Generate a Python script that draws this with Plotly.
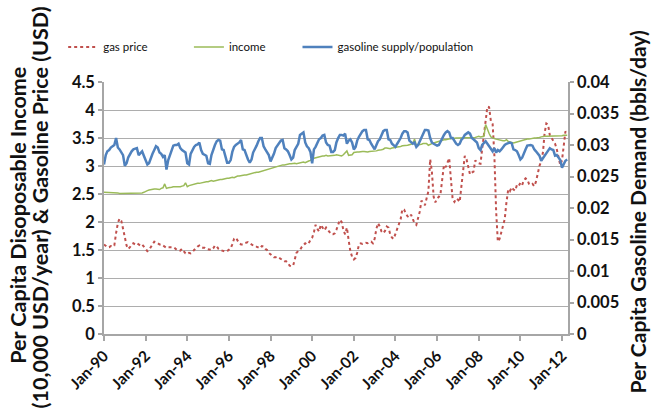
import pandas as pd
import plotly.graph_objects as go

# Monthly observations, Jan 1990 - Apr 2012
gas_price = [
    1.60, 1.58, 1.55, 1.55, 1.57, 1.56, 1.58, 1.80, 1.98, 2.06, 2.02, 1.88,  # 1990
    1.70, 1.58, 1.52, 1.55, 1.60, 1.62, 1.60, 1.62, 1.60, 1.58, 1.60, 1.56,  # 1991
    1.50, 1.48, 1.50, 1.55, 1.62, 1.65, 1.64, 1.62, 1.60, 1.60, 1.58, 1.55,  # 1992
    1.54, 1.55, 1.55, 1.56, 1.55, 1.53, 1.50, 1.50, 1.49, 1.52, 1.47, 1.44,  # 1993
    1.43, 1.45, 1.44, 1.46, 1.50, 1.54, 1.56, 1.58, 1.55, 1.54, 1.54, 1.52,  # 1994
    1.51, 1.50, 1.50, 1.53, 1.58, 1.57, 1.52, 1.50, 1.49, 1.48, 1.47, 1.48,  # 1995
    1.50, 1.53, 1.60, 1.70, 1.72, 1.66, 1.62, 1.60, 1.60, 1.62, 1.63, 1.64,  # 1996
    1.62, 1.60, 1.57, 1.56, 1.56, 1.55, 1.53, 1.57, 1.56, 1.52, 1.50, 1.45,  # 1997
    1.42, 1.39, 1.37, 1.37, 1.38, 1.36, 1.34, 1.31, 1.30, 1.30, 1.27, 1.22,  # 1998
    1.21, 1.22, 1.33, 1.45, 1.48, 1.50, 1.55, 1.58, 1.62, 1.60, 1.62, 1.68,  # 1999
    1.72, 1.82, 1.95, 1.88, 1.83, 1.95, 1.90, 1.85, 1.90, 1.86, 1.82, 1.78,  # 2000
    1.78, 1.80, 1.86, 1.96, 2.04, 2.00, 1.86, 1.78, 1.90, 1.68, 1.48, 1.38,  # 2001
    1.33, 1.36, 1.45, 1.60, 1.62, 1.61, 1.62, 1.63, 1.62, 1.64, 1.65, 1.62,  # 2002
    1.70, 1.88, 1.98, 1.92, 1.83, 1.80, 1.84, 1.92, 1.90, 1.78, 1.72, 1.70,  # 2003
    1.78, 1.88, 1.95, 2.05, 2.23, 2.22, 2.15, 2.10, 2.08, 2.13, 2.05, 1.98,  # 2004
    1.95, 2.05, 2.18, 2.38, 2.35, 2.30, 2.42, 2.55, 3.12, 2.90, 2.45, 2.35,  # 2005
    2.42, 2.45, 2.50, 2.80, 3.02, 2.98, 3.08, 3.14, 2.75, 2.40, 2.36, 2.42,  # 2006
    2.40, 2.36, 2.62, 2.95, 3.18, 3.12, 2.98, 2.85, 2.88, 2.90, 3.10, 3.06,  # 2007
    3.05, 3.04, 3.30, 3.55, 3.85, 4.06, 4.05, 3.80, 3.75, 3.20, 2.20, 1.65,  # 2008
    1.70, 1.82, 1.95, 2.05, 2.35, 2.58, 2.55, 2.62, 2.58, 2.56, 2.66, 2.64,  # 2009
    2.70, 2.66, 2.74, 2.78, 2.76, 2.68, 2.66, 2.68, 2.64, 2.72, 2.86, 3.00,  # 2010
    3.08, 3.25, 3.58, 3.76, 3.74, 3.55, 3.50, 3.46, 3.40, 3.30, 3.18, 3.02,  # 2011
    3.10, 3.40, 3.62, 3.58,                                                  # 2012
]

income = [
    2.53, 2.53, 2.52, 2.53, 2.53, 2.52, 2.52, 2.52, 2.52, 2.51, 2.51, 2.51,  # 1990
    2.51, 2.51, 2.52, 2.52, 2.52, 2.52, 2.51, 2.52, 2.52, 2.52, 2.52, 2.53,  # 1991
    2.55, 2.56, 2.57, 2.58, 2.58, 2.59, 2.59, 2.59, 2.58, 2.60, 2.61, 2.68,  # 1992
    2.60, 2.61, 2.61, 2.62, 2.63, 2.63, 2.63, 2.62, 2.63, 2.64, 2.65, 2.70,  # 1993
    2.63, 2.65, 2.66, 2.67, 2.68, 2.68, 2.69, 2.69, 2.70, 2.71, 2.71, 2.72,  # 1994
    2.72, 2.73, 2.74, 2.73, 2.74, 2.75, 2.75, 2.76, 2.76, 2.77, 2.77, 2.78,  # 1995
    2.78, 2.79, 2.80, 2.79, 2.81, 2.82, 2.82, 2.83, 2.83, 2.84, 2.84, 2.85,  # 1996
    2.86, 2.87, 2.87, 2.88, 2.89, 2.89, 2.90, 2.91, 2.92, 2.93, 2.94, 2.95,  # 1997
    2.96, 2.97, 2.98, 2.99, 3.00, 3.00, 3.01, 3.02, 3.02, 3.03, 3.03, 3.04,  # 1998
    3.04, 3.05, 3.05, 3.04, 3.05, 3.06, 3.06, 3.07, 3.06, 3.08, 3.09, 3.10,  # 1999
    3.13, 3.14, 3.15, 3.16, 3.17, 3.17, 3.18, 3.18, 3.19, 3.18, 3.18, 3.18,  # 2000
    3.19, 3.19, 3.20, 3.19, 3.19, 3.18, 3.20, 3.23, 3.27, 3.19, 3.20, 3.20,  # 2001
    3.24, 3.25, 3.25, 3.25, 3.26, 3.26, 3.26, 3.25, 3.25, 3.26, 3.26, 3.26,  # 2002
    3.27, 3.27, 3.28, 3.28, 3.29, 3.30, 3.32, 3.32, 3.31, 3.31, 3.32, 3.32,  # 2003
    3.33, 3.34, 3.34, 3.35, 3.36, 3.36, 3.37, 3.37, 3.38, 3.39, 3.40, 3.48,  # 2004
    3.37, 3.38, 3.38, 3.39, 3.40, 3.40, 3.40, 3.37, 3.39, 3.40, 3.41, 3.42,  # 2005
    3.44, 3.45, 3.46, 3.47, 3.47, 3.47, 3.48, 3.48, 3.49, 3.49, 3.50, 3.50,  # 2006
    3.50, 3.50, 3.50, 3.50, 3.50, 3.50, 3.50, 3.50, 3.50, 3.51, 3.51, 3.52,  # 2007
    3.53, 3.52, 3.52, 3.53, 3.74, 3.65, 3.58, 3.52, 3.50, 3.49, 3.48, 3.47,  # 2008
    3.46, 3.46, 3.45, 3.45, 3.47, 3.44, 3.43, 3.42, 3.41, 3.42, 3.43, 3.44,  # 2009
    3.45, 3.46, 3.46, 3.47, 3.48, 3.48, 3.49, 3.49, 3.50, 3.50, 3.50, 3.51,  # 2010
    3.52, 3.53, 3.53, 3.53, 3.53, 3.53, 3.53, 3.54, 3.53, 3.53, 3.54, 3.54,  # 2011
    3.54, 3.55, 3.55, 3.55,                                                  # 2012
]

# barrels per day per person
supply_per_capita = [
    .0269, .0284, .0290, .0292, .0296, .0298, .0300, .0311, .0296, .0293, .0288, .0284,  # 1990
    .0267, .0271, .0280, .0286, .0290, .0293, .0294, .0295, .0284, .0288, .0290, .0283,  # 1991
    .0276, .0269, .0271, .0280, .0286, .0292, .0298, .0296, .0288, .0286, .0281, .0284,  # 1992
    .0261, .0276, .0284, .0293, .0299, .0300, .0300, .0302, .0295, .0292, .0290, .0288,  # 1993
    .0271, .0269, .0286, .0292, .0297, .0300, .0301, .0304, .0292, .0286, .0284, .0283,  # 1994
    .0271, .0270, .0284, .0293, .0300, .0306, .0308, .0307, .0293, .0292, .0280, .0272,  # 1995
    .0272, .0276, .0289, .0297, .0300, .0302, .0304, .0308, .0293, .0292, .0284, .0277,  # 1996
    .0272, .0277, .0288, .0293, .0299, .0306, .0311, .0311, .0298, .0293, .0289, .0284,  # 1997
    .0274, .0280, .0286, .0295, .0299, .0304, .0307, .0308, .0295, .0293, .0290, .0284,  # 1998
    .0277, .0280, .0292, .0297, .0302, .0316, .0318, .0320, .0304, .0298, .0295, .0289,  # 1999
    .0271, .0293, .0297, .0304, .0309, .0311, .0315, .0316, .0304, .0300, .0299, .0289,  # 2000
    .0289, .0292, .0304, .0311, .0316, .0316, .0315, .0318, .0302, .0307, .0309, .0304,  # 2001
    .0293, .0297, .0307, .0313, .0318, .0322, .0324, .0324, .0309, .0308, .0302, .0298,  # 2002
    .0293, .0300, .0306, .0309, .0316, .0322, .0324, .0324, .0309, .0308, .0302, .0299,  # 2003
    .0297, .0302, .0306, .0311, .0318, .0322, .0322, .0320, .0307, .0304, .0302, .0304,  # 2004
    .0297, .0300, .0306, .0313, .0320, .0324, .0324, .0323, .0311, .0304, .0302, .0300,  # 2005
    .0299, .0300, .0306, .0311, .0316, .0320, .0322, .0320, .0311, .0311, .0306, .0302,  # 2006
    .0300, .0302, .0308, .0311, .0316, .0318, .0320, .0318, .0311, .0309, .0306, .0304,  # 2007
    .0295, .0292, .0300, .0304, .0306, .0302, .0298, .0293, .0290, .0295, .0288, .0292,  # 2008
    .0290, .0293, .0297, .0300, .0302, .0303, .0304, .0303, .0293, .0292, .0290, .0284,  # 2009
    .0277, .0280, .0288, .0293, .0299, .0300, .0300, .0299, .0293, .0290, .0286, .0283,  # 2010
    .0275, .0279, .0283, .0288, .0292, .0295, .0293, .0292, .0283, .0284, .0280, .0276,  # 2011
    .0264, .0271, .0275, .0277,                                                          # 2012
]

months = pd.date_range("1990-01-01", periods=len(gas_price), freq="MS")

RED = "#C0504D"
GREEN = "#9BBB59"
BLUE = "#4F81BD"
GRID = "#ADADAD"
AXIS = "#A6A6A6"
FONT = "Lato"
INK = "#111111"

fig = go.Figure()
fig.add_trace(go.Scatter(
    x=months, y=gas_price, name="gas price", mode="lines",
    line=dict(color=RED, width=2, dash="dot"), legend="legend",
))
fig.add_trace(go.Scatter(
    x=months, y=income, name="income", mode="lines",
    line=dict(color=GREEN, width=1.5), legend="legend2",
))
fig.add_trace(go.Scatter(
    x=months, y=supply_per_capita, name="gasoline supply/population", mode="lines",
    line=dict(color=BLUE, width=2.5), yaxis="y2", legend="legend3",
))

tick_font = dict(family=FONT, size=16.5, color=INK, weight="bold")


def legend_at(xpos):
    return dict(
        orientation="h", x=xpos, xanchor="left", y=1.139, yanchor="middle",
        font=dict(family=FONT, size=11.5, color=INK),
        bgcolor="rgba(0,0,0,0)", borderwidth=0,
    )


fig.update_layout(
    width=653, height=414,
    margin=dict(l=104, r=85, t=82, b=80),
    paper_bgcolor="white", plot_bgcolor="white",
    font=dict(family=FONT, color=INK),
    showlegend=True,
    legend=legend_at(-0.088),
    legend2=legend_at(0.183),
    legend3=legend_at(0.417),
    xaxis=dict(
        type="date", range=["1990-01-01", "2012-04-15"],
        tick0="1990-01-01", dtick="M24", tickformat="%b-%y",
        tickangle=-45, tickfont=dict(family=FONT, size=15.5, color=INK, weight="bold"),
        showgrid=False, zeroline=False,
        showline=True, linecolor=AXIS, linewidth=1.5,
        ticks="outside", ticklen=5, tickcolor=AXIS, tickwidth=1.5,
    ),
    yaxis=dict(
        range=[0, 4.5], dtick=0.5, tickfont=tick_font,
        showgrid=True, gridcolor=GRID, gridwidth=1.4, zeroline=False,
        showline=True, linecolor=AXIS, linewidth=1.5,
        ticks="outside", ticklen=4, tickcolor=AXIS, tickwidth=1.5,
    ),
    yaxis2=dict(
        range=[0, 0.04], dtick=0.005, overlaying="y", side="right",
        tickfont=tick_font, showgrid=False, zeroline=False,
        showline=True, linecolor=AXIS, linewidth=1.5,
        ticks="outside", ticklen=4, tickcolor=AXIS, tickwidth=1.5,
    ),
)

title_font = dict(family=FONT, size=21.5, color=INK, weight="bold")
fig.add_annotation(
    text="Per Capita Disoposable Income", textangle=-90,
    xref="paper", yref="paper", x=-0.186, y=0.472, xanchor="center", yanchor="middle",
    showarrow=False, font=title_font,
)
fig.add_annotation(
    text="(10,000 USD/year) & Gasoline Price (USD)", textangle=-90,
    xref="paper", yref="paper", x=-0.137, y=0.504, xanchor="center", yanchor="middle",
    showarrow=False, font=title_font,
)
fig.add_annotation(
    text="Per Capita Gasoline Demand (bbls/day)", textangle=-90,
    xref="paper", yref="paper", x=1.15, y=0.485, xanchor="center", yanchor="middle",
    showarrow=False, font=dict(family=FONT, size=21, color=INK, weight="bold"),
)

fig.write_html("out.html")
